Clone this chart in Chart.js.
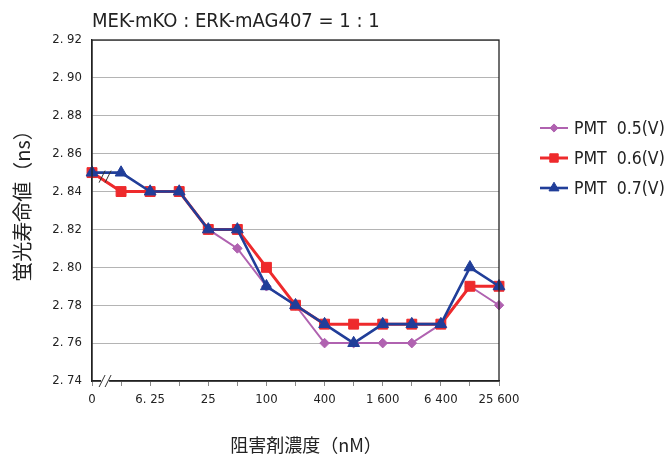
<!DOCTYPE html>
<html>
<head>
<meta charset="utf-8">
<script src="https://cdn.jsdelivr.net/npm/chart.js@4.4.1/dist/chart.umd.min.js"></script>
<style>
  html, body { margin: 0; padding: 0; background: #fff; }
  #wrap { width: 666px; height: 457px; position: relative; }
</style>
</head>
<body>
<div id="wrap"><canvas id="c" width="666" height="457"></canvas></div>
<script>
// Inhibitor concentrations (nM), one point per dilution step
const concentrations = [0, 3.125, 6.25, 12.5, 25, 50, 100, 200, 400, 800, 1600, 3200, 6400, 12800, 25600];
// Axis labels shown under every other concentration
const tickLabels = ['0', '', '6. 25', '', '25', '', '100', '', '400', '', '1 600', '', '6 400', '', '25 600'];

// Fluorescence lifetime (ns) for each PMT voltage
const pmt05 = [2.85, 2.84, 2.84, 2.84, 2.82, 2.81, 2.79, 2.78, 2.76, 2.76, 2.76, 2.76, 2.77, 2.79, 2.78];
const pmt06 = [2.85, 2.84, 2.84, 2.84, 2.82, 2.82, 2.80, 2.78, 2.77, 2.77, 2.77, 2.77, 2.77, 2.79, 2.79];
const pmt07 = [2.85, 2.85, 2.84, 2.84, 2.82, 2.82, 2.79, 2.78, 2.77, 2.76, 2.77, 2.77, 2.77, 2.80, 2.79];

const seriesNames = ['PMT  0.5(V)', 'PMT  0.6(V)', 'PMT  0.7(V)'];
const xTitle = '阻害剤濃度（nM）';
const yTitle = '蛍光寿命値（ns）';

const PURPLE = '#b062b0';
const RED = '#ee2a2c';
const BLUE = '#213e99';

const NARROW = '"Liberation Sans Narrow", "DejaVu Sans Condensed", sans-serif';
const CJK = '"Noto Sans CJK JP", "Noto Sans CJK SC", sans-serif';

const markerStyles = [
  { c: PURPLE, s: 'rectRot', r: 4.8, w: 2 },
  { c: RED, s: 'rect', r: 7, w: 3 },
  { c: BLUE, s: 'triangle', r: 6.8, w: 2.6 }
];

// Frame around the plot, axis break marks, axis titles and the side legend
const decor = {
  id: 'decor',
  afterDatasetsDraw(chart) {
    const { ctx, chartArea: a, scales } = chart;
    ctx.save();
    ctx.strokeStyle = '#222';
    ctx.lineWidth = 1.3;
    ctx.strokeRect(a.left, a.top, a.right - a.left, a.bottom - a.top);

    // break marks "//" between the zero point and the dilution series
    const bx = scales.x.getPixelForValue(0) + (scales.x.getPixelForValue(1) - scales.x.getPixelForValue(0)) * 0.45;
    const drawBreak = (cx, cy, white) => {
      if (white) {
        ctx.fillStyle = '#fff';
        ctx.fillRect(cx - 4, cy - 3, 8, 6);
      }
      ctx.strokeStyle = '#333';
      ctx.lineWidth = 1;
      for (const dx of [-3, 3]) {
        ctx.beginPath();
        ctx.moveTo(cx + dx - 3, cy + 6);
        ctx.lineTo(cx + dx + 3, cy - 6);
        ctx.stroke();
      }
    };
    drawBreak(bx, a.bottom, true);
    drawBreak(bx, scales.y.getPixelForValue(2.85) + 4, false);

    // axis titles
    ctx.fillStyle = '#222';
    ctx.textAlign = 'center';
    ctx.textBaseline = 'middle';
    ctx.font = '18px ' + CJK;
    ctx.fillText(xTitle, 306, 445);
    ctx.save();
    ctx.translate(22, 201);
    ctx.rotate(-Math.PI / 2);
    ctx.font = '20px ' + CJK;
    ctx.fillText(yTitle, 0, 0);
    ctx.restore();

    // legend: line with marker, then series name
    const lx = 540, lw = 28, y0 = 128, dy = 30;
    ctx.font = '17.5px ' + NARROW;
    ctx.textBaseline = 'middle';
    ctx.textAlign = 'left';
    markerStyles.forEach((st, i) => {
      const y = y0 + i * dy;
      ctx.strokeStyle = st.c;
      ctx.lineWidth = st.w;
      ctx.beginPath();
      ctx.moveTo(lx, y);
      ctx.lineTo(lx + lw, y);
      ctx.stroke();
      ctx.fillStyle = st.c;
      ctx.lineWidth = 1;
      Chart.helpers.drawPoint(ctx, { pointStyle: st.s, radius: st.r * 0.85, borderWidth: 1 }, lx + lw / 2, y);
      ctx.fillStyle = '#222';
      ctx.fillText(seriesNames[i], lx + lw + 6, y + 1);
    });
    ctx.restore();
  }
};

const seriesData = [pmt05, pmt06, pmt07];

new Chart(document.getElementById('c'), {
  type: 'line',
  data: {
    labels: concentrations,
    datasets: seriesData.map((d, i) => ({
      label: seriesNames[i],
      data: d,
      borderColor: markerStyles[i].c,
      backgroundColor: markerStyles[i].c,
      pointStyle: markerStyles[i].s,
      pointRadius: markerStyles[i].r,
      borderWidth: markerStyles[i].w,
      pointBorderWidth: 1,
      order: 3 - i
    }))
  },
  options: {
    responsive: false,
    animation: false,
    layout: { padding: { top: 10, left: 2, right: 167, bottom: 6 } },
    elements: { line: { tension: 0 } },
    plugins: {
      legend: { display: false },
      tooltip: { enabled: false },
      title: {
        display: true,
        text: 'MEK-mKO : ERK-mAG407 = 1 : 1',
        align: 'start',
        fullSize: false,
        color: '#222',
        font: { family: NARROW, size: 20, weight: 'normal' },
        padding: { top: 0, bottom: 6 }
      }
    },
    scales: {
      x: {
        type: 'category',
        offset: false,
        afterFit(s) { s.height = 70; },
        grid: { display: true, drawOnChartArea: false, drawTicks: true, tickLength: 5, color: '#888' },
        border: { display: true, color: '#222', width: 1.3 },
        ticks: {
          autoSkip: false, maxRotation: 0, minRotation: 0, padding: 6,
          color: '#222', font: { family: NARROW, size: 13 },
          callback: (v, i) => tickLabels[i]
        },
        title: { display: false }
      },
      y: {
        min: 2.74, max: 2.92,
        afterFit(s) { s.width = 90; },
        grid: { color: '#b4b4b4', lineWidth: 1, drawTicks: false },
        border: { display: true, color: '#222', width: 1.3 },
        ticks: {
          stepSize: 0.02, padding: 10, color: '#222',
          font: { family: NARROW, size: 13 },
          callback: v => v.toFixed(2).replace('.', '. ')
        },
        title: { display: false }
      }
    }
  },
  plugins: [decor]
});
</script>
</body>
</html>
